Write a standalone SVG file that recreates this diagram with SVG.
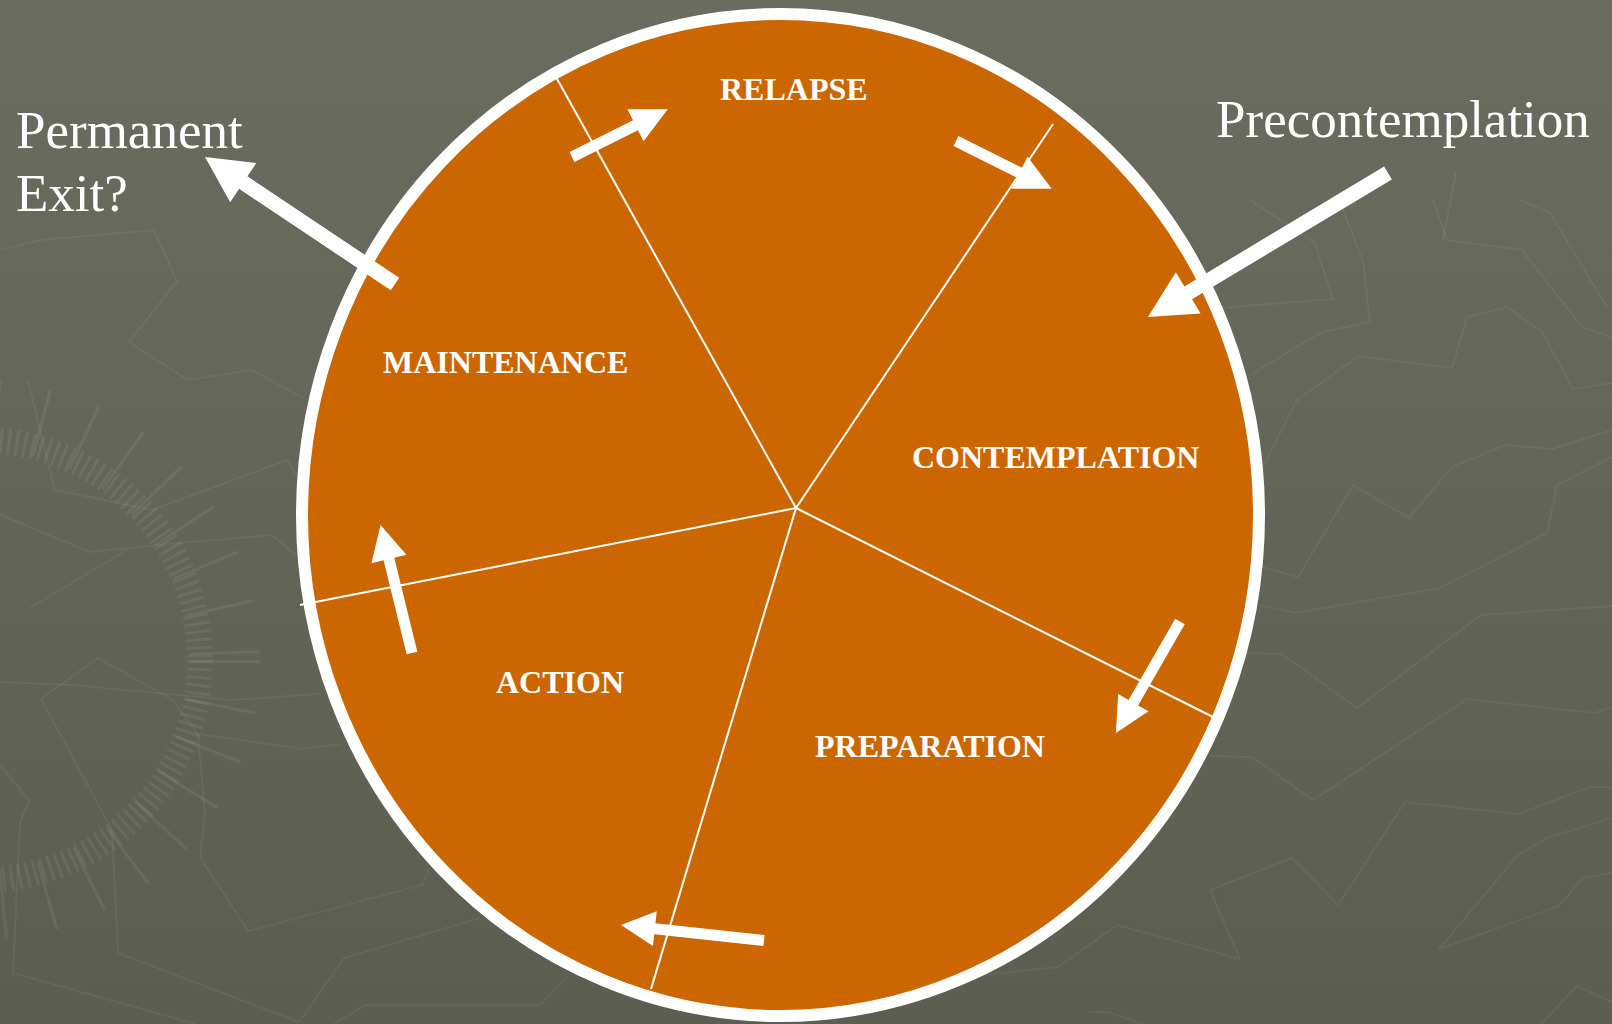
<svg xmlns="http://www.w3.org/2000/svg" width="1612" height="1024" viewBox="0 0 1612 1024">
  <defs>
    <linearGradient id="bgGrad" x1="0" y1="0" x2="0" y2="1">
      <stop offset="0" stop-color="#6a6c5f"/>
      <stop offset="1" stop-color="#5c5e51"/>
    </linearGradient>
    <style>
      .map { fill: none; stroke: #ffffff; stroke-opacity: 0.055; stroke-width: 2; stroke-linejoin: miter; }
      .ticks { fill: none; stroke: #ffffff; stroke-opacity: 0.065; }
      .wheel { fill: #cc6600; stroke: #ffffff; stroke-width: 12; }
      .spoke { stroke: #ffffff; stroke-width: 2; fill: none; }
      .arrow { fill: #ffffff; }
      .stage { font-family: "Liberation Serif", "Times New Roman", serif; font-weight: bold; font-size: 32px; fill: #ffffff; }
      .outer { font-family: "Liberation Serif", "Times New Roman", serif; font-size: 53px; fill: #ffffff; }
    </style>
  </defs>

  <!-- backdrop -->
  <rect x="0" y="0" width="1612" height="1024" fill="url(#bgGrad)"/>

  <!-- faint map texture -->
  <g id="map-texture">
    <circle class="ticks" cx="-20" cy="660" r="220" stroke-width="26" stroke-dasharray="3 5"/>
    <circle class="ticks" cx="-20" cy="660" r="245" stroke-width="70" stroke-dasharray="3 42"/>
    <polyline class="map" points="1250,653 1282,654 1357,708 1481,615 1612,606"/>
    <polyline class="map" points="1210,756 1252,757 1313,800 1467,699 1595,713 1612,707"/>
    <polyline class="map" points="981,975 1058,967 1117,925 1240,959 1210,890 1292,858 1338,905 1405,802 1518,814 1590,787 1612,787"/>
    <polyline class="map" points="1612,818 1547,838 1518,855 1439,949 1559,906 1583,878 1612,873"/>
    <polyline class="map" points="1541,1024 1577,986 1612,1002"/>
    <polyline class="map" points="1089,1012 1107,1012 1143,1024"/>
    <polyline class="map" points="1220,308 1333,299 1315,243 1250,200"/>
    <polyline class="map" points="1250,375 1322,332 1370,322 1363,262 1347,220 1340,200"/>
    <polyline class="map" points="1263,467 1297,400 1359,356 1452,368 1467,317 1507,307 1542,332 1573,389 1612,383"/>
    <polyline class="map" points="1433,200 1447,240 1522,250 1582,327 1612,337"/>
    <polyline class="map" points="1263,567 1298,577 1353,485 1409,518 1452,467 1505,445 1552,449 1612,430"/>
    <polyline class="map" points="1260,605 1295,613 1440,588 1547,533 1557,485 1612,457"/>
    <polyline class="map" points="1520,200 1550,213 1607,307"/>
    <polyline class="map" points="1456,172 1443,240"/>
    <polyline class="map" points="28,380 43,443 55,490 152,510 287,460 300,480"/>
    <polyline class="map" points="0,515 90,552 180,543 272,535 296,555"/>
    <polyline class="map" points="30,608 127,550"/>
    <polyline class="map" points="0,682 72,685 231,700 319,694"/>
    <polyline class="map" points="173,700 98,658 41,699 112,830 118,953 299,1022 344,958 480,918"/>
    <polyline class="map" points="172,699 198,734 303,749 342,744"/>
    <polyline class="map" points="198,734 205,815 200,857 248,931 422,885 430,868"/>
    <polyline class="map" points="0,765 29,800 20,823 13,973 196,1024"/>
    <polyline class="map" points="334,1024 365,1005 540,1005 567,977"/>
    <polyline class="map" points="0,250 41,240 154,230 177,281 129,342 188,380 252,370 303,398"/>
  </g>

  <!-- the wheel of change -->
  <g id="wheel">
    <ellipse class="wheel" cx="780.5" cy="515" rx="478.5" ry="501"/>
    <line class="spoke" x1="796" y1="508" x2="556" y2="77"/>
    <line class="spoke" x1="796" y1="508" x2="1053" y2="124"/>
    <line class="spoke" x1="796" y1="508" x2="1213" y2="717"/>
    <line class="spoke" x1="796" y1="508" x2="651" y2="989"/>
    <line class="spoke" x1="796" y1="508" x2="300" y2="605"/>
  </g>

  <!-- stage labels -->
  <g id="relapse"><text class="stage" x="720" y="100">RELAPSE</text></g>
  <g id="maintenance"><text class="stage" x="383" y="373">MAINTENANCE</text></g>
  <g id="contemplation"><text class="stage" x="912" y="468">CONTEMPLATION</text></g>
  <g id="action"><text class="stage" x="496" y="693">ACTION</text></g>
  <g id="preparation"><text class="stage" x="815" y="757">PREPARATION</text></g>
  <g id="precontemplation"><text class="outer" x="1216" y="137">Precontemplation</text></g>
  <g id="permanent-exit">
    <text class="outer" x="16" y="148">Permanent</text>
    <text class="outer" x="16" y="211">Exit?</text>
  </g>

  <!-- transitions: block arrows drawn along +x, then placed -->
  <g id="connectors">
    <path class="arrow" transform="translate(395,284) rotate(213.75)" d="M0,-7.5 H182.5 V-23.5 L228.5,0 L182.5,23.5 V7.5 H0 Z"/>
    <path class="arrow" transform="translate(1388,173) rotate(149.04)" d="M0,-7.5 H233 V-24 L280,0 L233,24 V7.5 H0 Z"/>
    <path class="arrow" transform="translate(956,141) rotate(26.57)" d="M0,-5.5 H71 V-18 L107,0 L71,18 V5.5 H0 Z"/>
    <path class="arrow" transform="translate(572,157) rotate(-26.57)" d="M0,-5.5 H71 V-18 L107,0 L71,18 V5.5 H0 Z"/>
    <path class="arrow" transform="translate(1180,621.5) rotate(119.9)" d="M0,-5.5 H93.6 V-17.5 L128.6,0 L93.6,17.5 V5.5 H0 Z"/>
    <path class="arrow" transform="translate(764,940.5) rotate(186.19)" d="M0,-5.5 H109.8 V-17.5 L143.8,0 L109.8,17.5 V5.5 H0 Z"/>
    <path class="arrow" transform="translate(412,653) rotate(256.2)" d="M0,-5.5 H96.8 V-18 L131.8,0 L96.8,18 V5.5 H0 Z"/>
  </g>
</svg>
